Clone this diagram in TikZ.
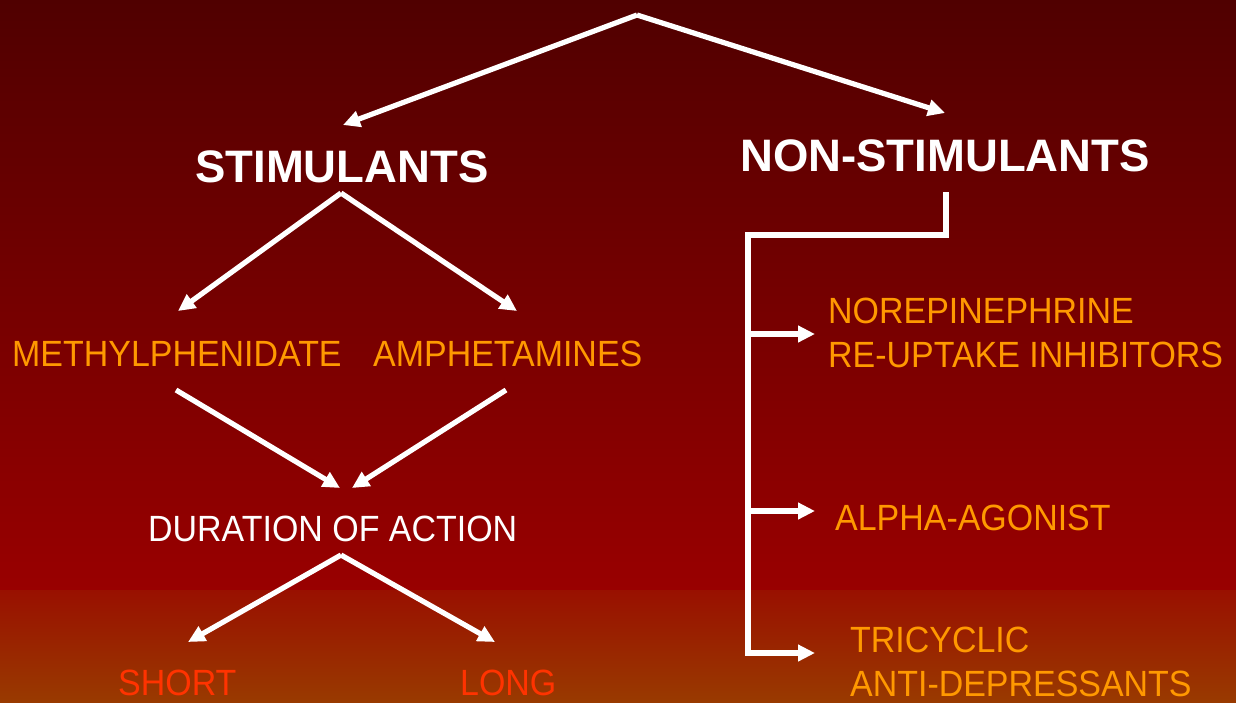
\documentclass[tikz,border=0pt]{standalone}
\usepackage{fontspec}
\usepackage{graphicx}
\setmainfont{Liberation Sans}
\usetikzlibrary{arrows.meta}
\definecolor{bgtop}{RGB}{80,0,0}
\definecolor{bgmid}{RGB}{153,0,0}
\definecolor{bandtop}{RGB}{153,16,0}
\definecolor{bandbot}{RGB}{153,58,0}
\definecolor{orangetxt}{RGB}{255,153,0}
\definecolor{redtxt}{RGB}{255,51,0}
\newcommand{\narrowtxt}[1]{\scalebox{0.93}[1]{#1}}
\begin{document}
\begin{tikzpicture}[x=1pt,y=-1pt,
  conn/.style={draw=white,line width=5.2pt,-{Triangle[length=17pt,width=16pt]}},
  plain/.style={draw=white,line width=5.2pt},
  head/.style={text=white,font=\fontsize{45.5}{50}\selectfont\bfseries,inner sep=0pt,anchor=base west},
  item/.style={text=orangetxt,font=\fontsize{36.5}{40}\selectfont,inner sep=0pt,anchor=base west},
  sub/.style={text=white,font=\fontsize{36.5}{40}\selectfont,inner sep=0pt,anchor=base west},
  dur/.style={text=redtxt,font=\fontsize{36.5}{40}\selectfont,inner sep=0pt,anchor=base west}]
\useasboundingbox (0,0) rectangle (1236,702);
\shade[top color=bgtop,bottom color=bgmid] (0,0) rectangle (1236,590);
\shade[top color=bandtop,bottom color=bandbot] (0,590) rectangle (1236,702);

% text nodes
\node[head] (stim) at (195,182) {STIMULANTS};
\node[head] (nonstim) at (740,171) {NON-STIMULANTS};
\node[item] (meth) at (12,366) {\narrowtxt{METHYLPHENIDATE}};
\node[item] (amph) at (373,366) {\narrowtxt{AMPHETAMINES}};
\node[sub] (durn) at (148,541) {\narrowtxt{DURATION OF ACTION}};
\node[dur] (short) at (118,695) {\narrowtxt{SHORT}};
\node[dur] (long) at (460,695) {\narrowtxt{LONG}};
\node[item] (nore) at (828,323) {\narrowtxt{NOREPINEPHRINE}};
\node[item] (reup) at (828,367) {\narrowtxt{RE-UPTAKE INHIBITORS}};
\node[item] (alpha) at (835,530) {\narrowtxt{ALPHA-AGONIST}};
\node[item] (tri) at (850,652) {\narrowtxt{TRICYCLIC}};
\node[item] (anti) at (850,696) {\narrowtxt{ANTI-DEPRESSANTS}};

% connector points
\coordinate (top) at (637,15);
\coordinate (stimT) at (343,125);
\coordinate (nonT) at (945,113);
\coordinate (stimB) at (341,193);
\coordinate (methT) at (178,311);
\coordinate (amphT) at (517,311);
\coordinate (methB) at (176,390);
\coordinate (amphB) at (506,390);
\coordinate (durL) at (340,488);
\coordinate (durR) at (352,488);
\coordinate (durB) at (341,555);
\coordinate (shortT) at (188,642);
\coordinate (longT) at (495,642);
\coordinate (nonB) at (946,192);
\coordinate (brR) at (946,235);
\coordinate (brL) at (748,235);
\coordinate (br1) at (748,334);
\coordinate (br2) at (748,511);
\coordinate (br3) at (748,653);
\coordinate (noreL) at (815,334);
\coordinate (alphaL) at (815,511);
\coordinate (triL) at (815,653);

\draw[conn] (top) -- (stimT);
\draw[conn] (top) -- (nonT);
\draw[conn] (stimB) -- (methT);
\draw[conn] (stimB) -- (amphT);
\draw[conn] (methB) -- (durL);
\draw[conn] (amphB) -- (durR);
\draw[conn] (durB) -- (shortT);
\draw[conn] (durB) -- (longT);
\draw[plain,line join=miter] (nonB) -- (brR) -- (brL) -- (br3);
\draw[conn] (br1) -- (noreL);
\draw[conn] (br2) -- (alphaL);
\draw[conn] ([xshift=-2.6pt]br3) -- (triL);
\end{tikzpicture}
\end{document}
